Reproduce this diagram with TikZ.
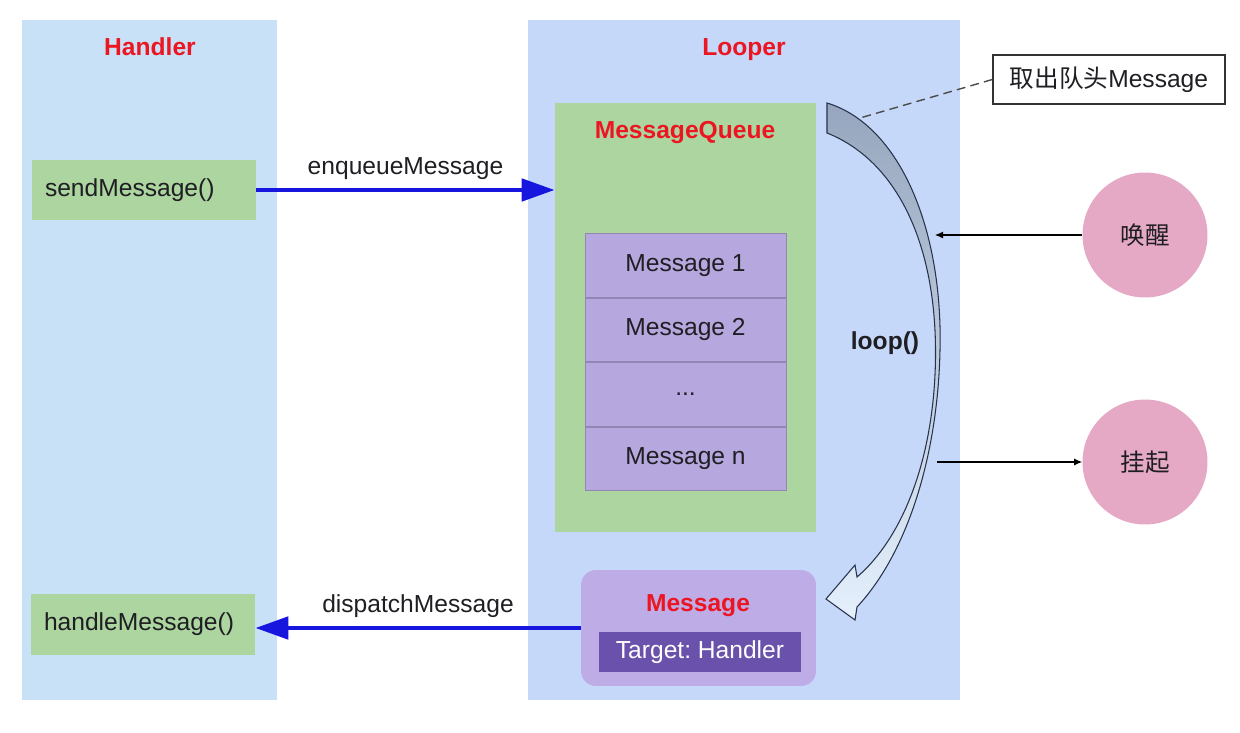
\documentclass[tikz,border=0pt]{standalone}
\usepackage{fontspec}
\setmainfont{Liberation Sans}
\newfontfamily\cjk{Noto Sans CJK SC}
\usepackage{xcolor}
\usepackage{tikz}
\usetikzlibrary{arrows.meta,positioning}
\definecolor{handlerBlue}{RGB}{201,225,246}
\definecolor{looperBlue}{RGB}{197,216,249}
\definecolor{queueGreen}{RGB}{172,213,160}
\definecolor{rowPurple}{RGB}{182,168,222}
\definecolor{msgPurple}{RGB}{190,172,230}
\definecolor{targetPurple}{RGB}{106,82,172}
\definecolor{titleRed}{RGB}{236,22,34}
\definecolor{statePink}{RGB}{229,168,197}
\definecolor{callBlue}{RGB}{22,22,222}
\definecolor{loopTop}{RGB}{150,166,190}
\definecolor{loopBottom}{RGB}{228,240,252}
\definecolor{loopLine}{RGB}{40,50,75}
\definecolor{textGrey}{RGB}{30,30,35}
\tikzset{%
	panelbox/.style = {
		rectangle, anchor=north west,
		minimum height=13.6cm, inner sep=0pt
	},
	titletext/.style = {
		font=\bfseries, text=titleRed,
		text height=1.6ex, text depth=0.4ex
	},
	funcbox/.style = {
		rectangle, fill=queueGreen,
		text width=3.96cm, inner xsep=0.26cm,
		minimum height=1.2cm, align=left
	},
	msgrow/.style = {
		rectangle, fill=rowPurple, draw=rowPurple!80!black,
		minimum width=4.02cm, minimum height=1.275cm, inner sep=0pt
	},
	sidecircle/.style = {
		circle, fill=statePink, minimum size=2.5cm, font=\cjk
	},
	callarrow/.style = {
		-{Triangle[length=0.66cm,width=0.44cm]}, line width=2.8pt, draw=callBlue
	},
	hintarrow/.style = {
		-{Latex[length=1.6mm,width=1.4mm]}, line width=0.6pt
	}
}
\begin{document}
\begin{tikzpicture}[x=0.02cm, y=-0.02cm, node distance=0pt, every node/.style={text=textGrey}]
    \fontsize{14}{17}\selectfont\frenchspacing
    \useasboundingbox (0,0) rectangle (1240,733);
    % Specification of nodes (position, etc.)
    \node (handlerPanel)  [panelbox, fill=handlerBlue, minimum width=5.1cm]  at (22,20)    {};
    \node (looperPanel)   [panelbox, fill=looperBlue, minimum width=8.64cm]  at (528,20)   {};
    \node (handlerTitle)  [titletext]                                      at (150,48)   {Handler};
    \node (looperTitle)   [titletext]                                      at (744,48)   {Looper};

    \node (sendMsg)       [funcbox]                                        at (144,190)  {sendMessage()};
    \node (handleMsg)     [funcbox, minimum height=1.22cm]                 at (143,624.5) {handleMessage()};

    \node (queue)         [rectangle, fill=queueGreen, minimum width=5.22cm, minimum height=8.58cm] at (685.5,317.5) {};
    \node (queueTitle)    [titletext]                                      at (685,131)  {MessageQueue};
    \node (row1)          [msgrow]                                         at (685.5,265.5) {Message 1};
    \node (row2)          [msgrow, below=of row1]                          {Message 2};
    \node (row3)          [msgrow, below=of row2]                          {...};
    \node (rowN)          [msgrow, below=of row3]                          {Message n};

    \node (msgBox)        [rectangle, rounded corners=0.3cm, fill=msgPurple, minimum width=4.7cm, minimum height=2.32cm] at (698.5,628) {};
    \node (msgTitle)      [titletext]                                      at (698,604)  {Message};
    \node (target)        [rectangle, fill=targetPurple, text=white, minimum width=4.04cm, minimum height=0.8cm] at (700,652) {Target: Handler};

    \node (note)          [rectangle, draw=black!80, line width=0.8pt, fill=white, minimum width=4.64cm, minimum height=0.98cm] at (1109,79.5) {{\cjk 取出队头}Message};
    \node (wake)          [sidecircle]                                     at (1145,235) {唤醒};
    \node (sleep)         [sidecircle]                                     at (1145,462) {挂起};
    \node (loopLabel)     [font=\bfseries]                                 at (885,343)  {loop()};

    % the loop() band
    \draw[draw=loopLine, line width=0.6pt, top color=loopTop, bottom color=loopBottom]
        (827,103) .. controls (900,125) and (943,230) .. (940,350)
        .. controls (938,450) and (910,550) .. (857,607)
        -- (855,620) -- (826,599) -- (855,565) -- (857,577)
        .. controls (906,535) and (936,450) .. (935.5,350)
        .. controls (935,240) and (895,160) .. (827,133) -- cycle;
    \coordinate (headPoint)  at (860,118);
    \coordinate (wakeEnd)    at (935,235);
    \coordinate (sleepStart) at (937,462);

    \draw[callarrow]      (sendMsg.east) -- (sendMsg.east -| queue.west) node[midway, above=0pt] {enqueueMessage};
    \draw[callarrow]      (msgBox.west) -- (msgBox.west -| handleMsg.east) node[midway, above=0pt] {dispatchMessage};
    \draw[dash pattern=on 5pt off 3pt, line width=0.8pt, draw=black!70] (note.west) -- (headPoint);
    \draw[hintarrow]      (wake.west) -- (wakeEnd);
    \draw[hintarrow]      (sleepStart) -- (sleep.west);

\end{tikzpicture}
\end{document}
